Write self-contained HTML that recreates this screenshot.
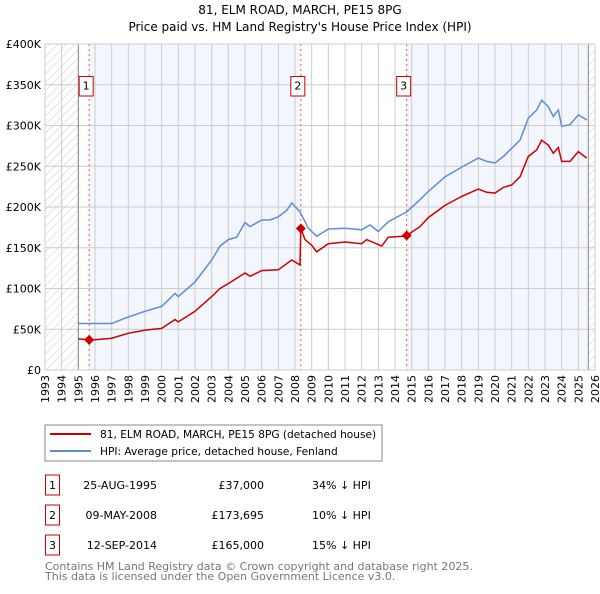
<!DOCTYPE html>
<html><head><meta charset="utf-8"><style>
body{margin:0;background:#fff;width:600px;height:590px;overflow:hidden;font-family:"DejaVu Sans","Liberation Sans",sans-serif}
svg text{font-family:"DejaVu Sans","Liberation Sans",sans-serif}
</style></head><body>
<svg id="chart" width="600" height="590">
<defs><pattern id="hatch" width="6" height="6" patternUnits="userSpaceOnUse" patternTransform="rotate(45)"><line x1="0" y1="0" x2="0" y2="6" stroke="#ccc" stroke-width="1"/></pattern></defs>
<text x="300" y="14" text-anchor="middle" font-size="12">81, ELM ROAD, MARCH, PE15 8PG</text>
<text x="300" y="31" text-anchor="middle" font-size="12">Price paid vs. HM Land Registry's House Price Index (HPI)</text>
<g id="plot"></g>
<rect x="45" y="425" width="337" height="36" fill="#fff" stroke="#888"/>
<line x1="50" y1="434" x2="91" y2="434" stroke="#cc0000" stroke-width="2"/>
<text x="100" y="438" font-size="10.6">81, ELM ROAD, MARCH, PE15 8PG (detached house)</text>
<line x1="50" y1="451" x2="91" y2="451" stroke="#5b8fd4" stroke-width="2"/>
<text x="100" y="455" font-size="10.6">HPI: Average price, detached house, Fenland</text>
<g id="table" font-size="11"></g>
<text x="45" y="570" font-size="11" fill="#777">Contains HM Land Registry data © Crown copyright and database right 2025.</text>
<text x="45" y="580" font-size="11" fill="#777">This data is licensed under the Open Government Licence v3.0.</text>
</svg>
<script>
const hpiYears=[1995,1996,1997,1998,1999,2000,2000.8,2001,2002,2003,2003.5,2004,2004.5,2005,2005.3,2006,2006.5,2007,2007.5,2007.8,2008.3,2008.8,2009.3,2010,2011,2012,2012.5,2013,2013.6,2014.7,2015.5,2016,2017,2018,2019,2019.5,2020,2020.5,2021,2021.5,2022,2022.5,2022.8,2023.2,2023.5,2023.8,2024,2024.5,2025,2025.5];
const hpiValues=[57,57,57,65,72,78,94,90,108,135,152,160,163,181,176,184,184,188,196,205,194,174,164,173,174,172,178,170,182,194,209,219,237,249,260,256,254,262,272,282,309,319,331,323,311,319,299,301,313,307];
const priceYears=[1995,1996,1997,1998,1999,2000,2000.8,2001,2002,2003,2003.5,2004,2005,2005.3,2006,2007,2007.8,2008.3,2008.35,2008.6,2009,2009.3,2010,2011,2012,2012.3,2013.2,2013.6,2014.5,2014.7,2015.5,2016,2017,2018,2019,2019.5,2020,2020.5,2021,2021.5,2022,2022.5,2022.8,2023.2,2023.5,2023.8,2024,2024.5,2025,2025.5];
const priceValues=[38,37,39,45,49,51,62,59,72,90,100,106,119,115,122,123,135,129,173.7,160,153,145,155,157,155,160,152,163,164,165,176,187,202,213,222,218,217,224,227,237,262,270,282,276,266,273,256,256,268,260];
const saleYears=[1995.65,2008.35,2014.7];
const saleValues=[37,173.695,165];
const saleLabels=["1","2","3"];
const saleDates=["25-AUG-1995","09-MAY-2008","12-SEP-2014"];
const salePrices=["£37,000","£173,695","£165,000"];
const saleDiffs=["34% ↓ HPI","10% ↓ HPI","15% ↓ HPI"];
const yTicks=[0,50,100,150,200,250,300,350,400];
const yTickLabels=["£0","£50K","£100K","£150K","£200K","£250K","£300K","£350K","£400K"];
const xTicks=[];for(let y=1993;y<=2026;y++)xTicks.push(y);
const dataStart=1995,dataEnd=2025.6;

const X0=45,X1=595,Y0=370,Y1=44;
const xs=y=>X0+(y-1993)/(2026-1993)*(X1-X0);
const ys=v=>Y0-v/400*(Y0-Y1);
const NS="http://www.w3.org/2000/svg";
const plot=document.getElementById('plot');
function mk(tag,attrs,parent){const e=document.createElementNS(NS,tag);for(const k in attrs)e.setAttribute(k,attrs[k]);(parent||plot).appendChild(e);return e;}

let e;
e=mk('rect',{x:X0,y:Y1,width:X1-X0,height:Y0-Y1,fill:'#fff'});


e=mk('rect',{x:xs(saleYears[0]),y:Y1,width:xs(saleYears[1])-xs(saleYears[0]),height:Y0-Y1,fill:'#f3f6fd'});


e=mk('rect',{x:xs(saleYears[2]),y:Y1,width:xs(dataEnd)-xs(saleYears[2]),height:Y0-Y1,fill:'#f3f6fd'});


e=mk('rect',{x:X0,y:Y1,width:xs(dataStart)-X0,height:Y0-Y1,fill:'url(#hatch)'});


e=mk('rect',{x:xs(dataEnd),y:Y1,width:X1-xs(dataEnd),height:Y0-Y1,fill:'url(#hatch)'});



yTicks.forEach((t,i)=>{
 e=mk('line',{x1:X0,x2:X1,y1:ys(t),y2:ys(t),stroke:'#ccc','stroke-width':1});
 
 
 e=mk('text',{x:X0-4,y:ys(t)+4,'text-anchor':'end','font-size':11});
 e.textContent=yTickLabels[i];
 
 
});
xTicks.forEach(t=>{
 e=mk('line',{x1:xs(t),x2:xs(t),y1:Y1,y2:Y0,stroke:'#ccc','stroke-width':1});
 
 
 e=mk('text',{x:0,y:0,'text-anchor':'end','font-size':11,transform:`translate(${xs(t)+4},${Y0+5}) rotate(-90)`});
 e.textContent=t;
 
 
});
e=mk('line',{x1:xs(dataStart),x2:xs(dataStart),y1:Y1,y2:Y0,stroke:'#888'});


e=mk('line',{x1:xs(dataEnd),x2:xs(dataEnd),y1:Y1,y2:Y0,stroke:'#888'});



saleYears.forEach((s,i)=>{
 e=mk('line',{x1:xs(s),x2:xs(s),y1:Y1,y2:Y0,stroke:'#ee5555','stroke-dasharray':'2,3'});
 
 
});

const pts=(a,b)=>a.map((y,i)=>xs(y).toFixed(1)+','+ys(b[i]).toFixed(1)).join(' ');
e=mk('polyline',{points:pts(hpiYears,hpiValues),fill:'none',stroke:'#5b8fd4','stroke-width':1.5});


e=mk('polyline',{points:pts(priceYears,priceValues),fill:'none',stroke:'#cc0000','stroke-width':1.5});



saleYears.forEach((s,i)=>{
 const cx=xs(s),cy=ys(saleValues[i]);
 e=mk('polygon',{points:`${cx},${cy-5} ${cx+5},${cy} ${cx},${cy+5} ${cx-5},${cy}`,fill:'#cc0000'});
 
 
 const g=mk('g',{});
 
 
 mk('rect',{x:cx-10,y:76.5,width:14,height:19.5,fill:'#fff',stroke:'#cc0000'},g);
 const t=mk('text',{x:cx-3,y:89.5,'text-anchor':'middle','font-size':11},g);
 t.textContent=saleLabels[i];
});
e=mk('rect',{x:X0,y:Y1,width:X1-X0,height:Y0-Y1,fill:'none',stroke:'#ccc'});



const tb=document.getElementById('table');
const rowY=[485,515,545];
for(let i=0;i<3;i++){
 const g=document.createElementNS(NS,'g');
 
 
 tb.appendChild(g);
 const y=rowY[i];
 g.innerHTML=`<rect x="45.5" y="${y-10}" width="14" height="20" fill="#fff" stroke="#cc0000"/>
<text x="52.5" y="${y+4}" text-anchor="middle">${saleLabels[i]}</text>
<text x="157" y="${y+4}" text-anchor="end">${saleDates[i]}</text>
<text x="264" y="${y+4}" text-anchor="end">${salePrices[i]}</text>
<text x="312" y="${y+4}">${saleDiffs[i]}</text>`;
}
</script>
</body></html>
